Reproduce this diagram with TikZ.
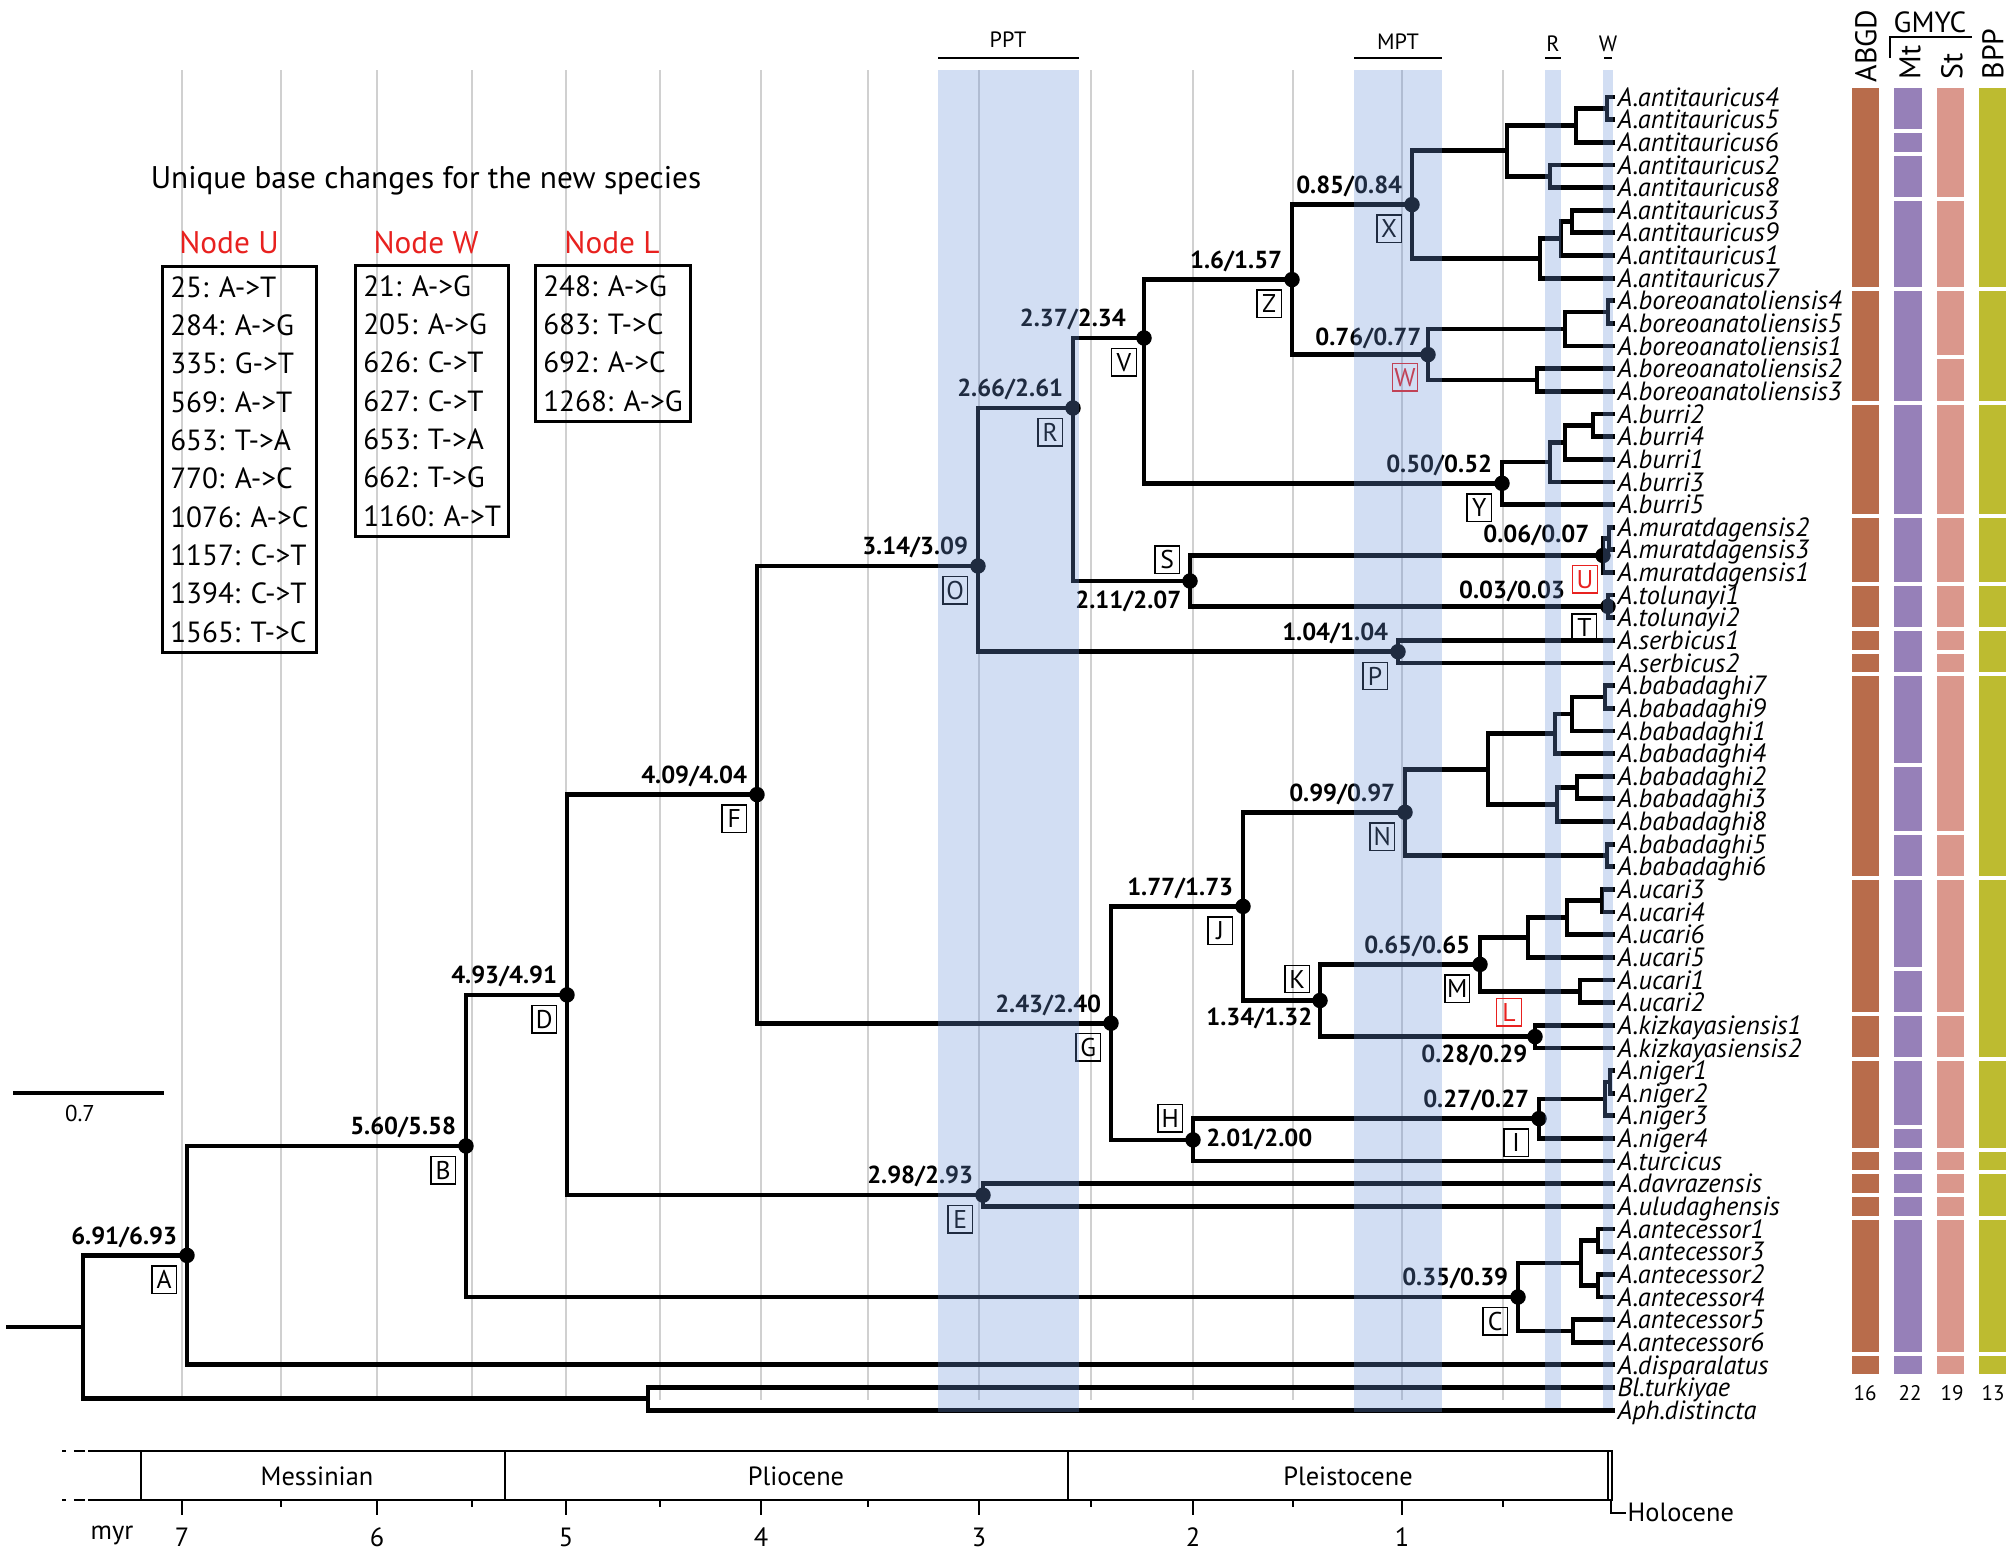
\documentclass[tikz,border=0pt]{standalone}
\usepackage{fontspec}
\setmainfont{PT Sans}
\usetikzlibrary{positioning}

\definecolor{gridgrey}{RGB}{208,208,208}
\definecolor{bandblue}{RGB}{105,145,215}
\definecolor{newred}{RGB}{232,33,31}
\definecolor{abgdcol}{RGB}{184,108,75}
\definecolor{mtcol}{RGB}{150,128,184}
\definecolor{stcol}{RGB}{218,151,140}
\definecolor{bppcol}{RGB}{189,187,48}

\tikzset{
  branch/.style={line width=1.35pt, line cap=rect},
  dot/.style={circle, fill, inner sep=0pt, minimum size=4.4pt},
  num/.style={font=\bfseries\fontsize{7}{8}\selectfont, inner sep=0pt},
  lettbox/.style={draw, line width=0.4pt, inner sep=0.5pt, minimum width=7pt, minimum height=7.8pt, font=\fontsize{7.3}{8}\selectfont},
  newbox/.style={lettbox, draw=newred, text=newred},
  tip/.style={anchor=west, inner xsep=1.1pt, inner ysep=0pt, text height=5.2pt, text depth=0pt, font=\itshape\fontsize{7.5}{8}\selectfont},
  gridline/.style={gridgrey, line width=0.45pt},
  band/.style={fill=bandblue, fill opacity=0.3},
  bandlab/.style={font=\fontsize{6.3}{7}\selectfont, inner sep=0pt},
  chgbox/.style={draw, line width=0.9pt, align=left, anchor=north west, inner xsep=2.2pt, inner ysep=2.8pt, font=\fontsize{8.3}{10.9}\selectfont},
  chghead/.style={text=newred, inner sep=0pt, font=\fontsize{8.9}{10}\selectfont},
  epoch/.style={inner sep=0pt, font=\fontsize{7.5}{8}\selectfont},
  colhead/.style={rotate=90, anchor=west, inner sep=0pt, font=\fontsize{8.5}{9}\selectfont},
  colnum/.style={inner sep=0pt, font=\fontsize{6}{7}\selectfont},
}

\begin{document}
\begin{tikzpicture}[x=0.01cm, y=-0.01cm]
\useasboundingbox (0,0) rectangle (2012,1551);

% Grid
\foreach \gx in {182,281,377,472,566,660,761,868,979,1091,1193,1293,1402,1503}
  \draw[gridline] (\gx,70) -- (\gx,1400);

% Tips
\foreach \lab [count=\i] in {A.antitauricus4, A.antitauricus5, A.antitauricus6, A.antitauricus2, A.antitauricus8, A.antitauricus3, A.antitauricus9, A.antitauricus1, A.antitauricus7, A.boreoanatoliensis4, A.boreoanatoliensis5, A.boreoanatoliensis1, A.boreoanatoliensis2, A.boreoanatoliensis3, A.burri2, A.burri4, A.burri1, A.burri3, A.burri5, A.muratdagensis2, A.muratdagensis3, A.muratdagensis1, A.tolunayi1, A.tolunayi2, A.serbicus1, A.serbicus2, A.babadaghi7, A.babadaghi9, A.babadaghi1, A.babadaghi4, A.babadaghi2, A.babadaghi3, A.babadaghi8, A.babadaghi5, A.babadaghi6, A.ucari3, A.ucari4, A.ucari6, A.ucari5, A.ucari1, A.ucari2, A.kizkayasiensis1, A.kizkayasiensis2, A.niger1, A.niger2, A.niger3, A.niger4, A.turcicus, A.davrazensis, A.uludaghensis, A.antecessor1, A.antecessor3, A.antecessor2, A.antecessor4, A.antecessor5, A.antecessor6, A.disparalatus, Bl.turkiyae, Aph.distincta}
  \node[tip] (t\i) at (1613,{97+(\i-1)*22.64}) {\lab};

% Internal nodes
\coordinate (stem) at (6,1327.1);
\coordinate (root) at (83,1327.1);
\coordinate (og) at (648,1398.8);
\coordinate (A) at (187,1255.4);
\coordinate (B) at (466,1146.0);
\coordinate (C) at (1518,1297.0);
\coordinate (D) at (567,994.9);
\coordinate (E) at (983,1195.1);
\coordinate (F) at (757,794.6);
\coordinate (G) at (1111,1023.2);
\coordinate (H) at (1193,1139.9);
\coordinate (I) at (1539,1118.6);
\coordinate (J) at (1243,906.4);
\coordinate (K) at (1320,1000.5);
\coordinate (L) at (1535,1036.6);
\coordinate (M) at (1480,964.4);
\coordinate (N) at (1405,812.3);
\coordinate (O) at (978,566);
\coordinate (P) at (1398,651.7);
\coordinate (R) at (1073,408);
\coordinate (S) at (1190,581.0);
\coordinate (T) at (1608,606.4);
\coordinate (U) at (1603,555.5);
\coordinate (V) at (1144,338);
\coordinate (W) at (1428,354.6);
\coordinate (X) at (1412,204.6);
\coordinate (Y) at (1502,483.3);
\coordinate (Z) at (1292,279.6);
\coordinate (n1) at (1607,108.3);
\coordinate (n2) at (1576,125.3);
\coordinate (n3) at (1550,176.3);
\coordinate (n4) at (1507,150.8);
\coordinate (n5) at (1572,221.5);
\coordinate (n6) at (1561,238.5);
\coordinate (n7) at (1540,258.3);
\coordinate (n8) at (1608,312.1);
\coordinate (n9) at (1565,329.1);
\coordinate (n10) at (1537,380.0);
\coordinate (n11) at (1593,425.3);
\coordinate (n12) at (1565,442.3);
\coordinate (n13) at (1550,462.1);
\coordinate (n14) at (1609,538.5);
\coordinate (n15) at (1605,697.0);
\coordinate (n16) at (1572,714.0);
\coordinate (n17) at (1555,733.8);
\coordinate (n18) at (1577,787.5);
\coordinate (n19) at (1557,804.5);
\coordinate (n20) at (1488,769.2);
\coordinate (n21) at (1607,855.5);
\coordinate (n22) at (1602,900.7);
\coordinate (n23) at (1567,917.7);
\coordinate (n24) at (1528,937.5);
\coordinate (n25) at (1580,991.3);
\coordinate (n26) at (1610,1081.9);
\coordinate (n27) at (1605,1098.9);
\coordinate (n28) at (1598,1240.3);
\coordinate (n29) at (1598,1285.6);
\coordinate (n30) at (1581,1263.0);
\coordinate (n31) at (1573,1330.9);

% Edges
\draw[branch, line cap=butt] (stem) -- (root);
\foreach \p/\c in {root/A, root/og, A/B, A/t57.west, B/D, B/C, D/F, D/E, E/t49.west, E/t50.west,
  F/O, F/G, O/R, O/P, R/V, R/S, V/Z, V/Y, Z/X, Z/W, X/n4, X/n7, n4/n2, n4/n3, n2/n1, n2/t3.west,
  n1/t1.west, n1/t2.west, n3/t4.west, n3/t5.west, n7/n6, n7/t9.west, n6/n5, n6/t8.west,
  n5/t6.west, n5/t7.west, W/n9, W/n10, n9/n8, n9/t12.west, n8/t10.west, n8/t11.west,
  n10/t13.west, n10/t14.west, Y/n13, Y/t19.west, n13/n12, n13/t18.west, n12/n11, n12/t17.west,
  n11/t15.west, n11/t16.west, S/U, S/T, U/n14, U/t22.west, n14/t20.west, n14/t21.west,
  T/t23.west, T/t24.west, P/t25.west, P/t26.west, G/J, G/H, J/N, J/K, N/n20, N/n21,
  n20/n17, n20/n19, n17/n16, n17/t30.west, n16/n15, n16/t29.west, n15/t27.west, n15/t28.west,
  n19/n18, n19/t33.west, n18/t31.west, n18/t32.west, n21/t34.west, n21/t35.west, K/M, K/L,
  M/n24, M/n25, n24/n23, n24/t39.west, n23/n22, n23/t38.west, n22/t36.west, n22/t37.west,
  n25/t40.west, n25/t41.west, L/t42.west, L/t43.west, H/I, H/t48.west, I/n27, I/t47.west,
  n27/n26, n27/t46.west, n26/t44.west, n26/t45.west, C/n30, C/n31, n30/n28, n30/n29,
  n28/t51.west, n28/t52.west, n29/t53.west, n29/t54.west, n31/t55.west, n31/t56.west,
  og/t58.west, og/t59.west}
  \draw[branch] (\p) |- (\c);

% Dots
\foreach \n in {A,B,C,D,E,F,G,H,I,J,K,L,M,N,O,P,R,S,T,U,V,W,X,Y,Z}
  \node[dot] (d\n) at (\n) {};

% Ages and node letters
\foreach \n/\a/\b in {A/6.91/6.93, B/5.60/5.58, C/0.35/0.39, D/4.93/4.91, E/2.98/2.93,
  F/4.09/4.04, G/2.43/2.40, I/0.27/0.27, J/1.77/1.73, M/0.65/0.65, N/0.99/0.97,
  O/3.14/3.09, P/1.04/1.04, R/2.66/2.61, X/0.85/0.84, Y/0.50/0.52, Z/1.6/1.57} {
  \node[num, above left=2pt and 2.6pt of \n] (v\n) {\a/\b};
  \node[lettbox, below left=2.8pt and 2.8pt of \n] (b\n) {\n};
}
\node[num, above left=2pt and 5pt of V] (vV) {2.37/2.34};
\node[lettbox, below left=2.8pt and 2pt of V] (bV) {V};
\node[num, above left=1.3pt and 1.7pt of W] (vW) {0.76/0.77};
\node[newbox, below left=2.4pt and 2.8pt of W] (bW) {W};
\node[num, above left=2.4pt and 3.7pt of U] (vU) {0.06/0.07};
\node[newbox, below left=2.7pt and 1.4pt of U] (bU) {U};
\node[num, above left=1pt and 12pt of T] (vT) {0.03/0.03};
\node[lettbox, below left=1.9pt and 3pt of T] (bT) {T};
\node[lettbox, above left=2pt and 2.8pt of K] (bK) {K};
\node[num, below left=2pt and 2pt of K] (vK) {1.34/1.32};
\node[newbox, above left=2.8pt and 3.7pt of L] (bL) {L};
\node[num, below left=2.3pt and 2pt of L] (vL) {0.28/0.29};
\node[lettbox, above left=2pt and 2.8pt of S] (bS) {S};
\node[num, below left=2.6pt and 2.3pt of S] (vS) {2.11/2.07};
\node[lettbox, above left=2pt and 2.8pt of H] (bH) {H};
\node[num, right=3.6pt of H] (vH) {2.01/2.00};

% Shaded periods
\fill[band] (938,70) rectangle (1079,1412);
\fill[band] (1354,70) rectangle (1442,1412);
\fill[band] (1545,70) rectangle (1561,1408);
\fill[band] (1603,70) rectangle (1613,1408);
\node[bandlab] (ppt) at (1008,40) {PPT};
\node[bandlab] (mpt) at (1398,42) {MPT};
\node[bandlab] (rlab) at (1553,44) {R};
\node[bandlab] (wlab) at (1608,44) {W};
\draw[line width=0.8pt] (938,58) -- (1079,58);
\draw[line width=0.8pt] (1354,58) -- (1442,58);
\draw[line width=0.8pt] (1545,58) -- (1561,58);
\draw[line width=0.8pt] (1604,58) -- (1612,58);

% Scale bar
\coordinate (sb0) at (13,1093);
\coordinate (sb1) at (164,1093);
\draw[branch, line cap=butt] (sb0) -- (sb1);
\node[colnum, font=\fontsize{6.5}{7}\selectfont] (sblab) at (80,1113) {0.7};

% Unique base changes
\node[inner sep=0pt, anchor=base, font=\fontsize{8.9}{10}\selectfont] (title) at (426,188) {Unique base changes for the new species};
\node[chghead] (hU) at (229,243) {Node U};
\node[chghead] (hW) at (426,243) {Node W};
\node[chghead] (hL) at (612,243) {Node L};
\node[chgbox] (boxU) at (161,265) {25: A->T\\284: A->G\\335: G->T\\569: A->T\\653: T->A\\770: A->C\\1076: A->C\\1157: C->T\\1394: C->T\\1565: T->C};
\node[chgbox] (boxW) at (354,264) {21: A->G\\205: A->G\\626: C->T\\627: C->T\\653: T->A\\662: T->G\\1160: A->T};
\node[chgbox] (boxL) at (534,264) {248: A->G\\683: T->C\\692: A->C\\1268: A->G};

% Time scale
\draw[line width=0.7pt, dash pattern=on 1.2pt off 2.2pt on 3pt off 1pt] (62,1451) -- (92,1451);
\draw[line width=0.7pt, dash pattern=on 1.2pt off 2.2pt on 3pt off 1pt] (62,1500) -- (92,1500);
\draw[line width=0.7pt] (92,1451) -- (1612,1451) -- (1612,1500) -- (92,1500);
\foreach \ex in {141,505,1068,1608}
  \draw[line width=0.6pt] (\ex,1451) -- (\ex,1500);
\node[epoch] (mess) at (317,1476) {Messinian};
\node[epoch] (plio) at (796,1476) {Pliocene};
\node[epoch] (pleis) at (1348,1476) {Pleistocene};
\draw[line width=0.7pt] (1611,1500) |- (1626,1513);
\node[epoch, anchor=west] (holo) at (1627,1512) {Holocene};
\foreach \tx/\tl in {182/7, 377/6, 566/5, 761/4, 979/3, 1193/2, 1402/1} {
  \draw[line width=0.6pt] (\tx,1500) -- (\tx,1515);
  \node[epoch] (age\tl) at (\tx,1537) {\tl};
}
\foreach \tx in {281,472,660,868,1091,1293,1503}
  \draw[line width=0.6pt] (\tx,1500) -- (\tx,1507);
\node[epoch] (myr) at (112,1535) {myr};

% Species delimitation bars
\foreach \a/\b in {1/9, 10/14, 15/19, 20/22, 23/24, 25/25, 26/26, 27/35, 36/41, 42/43, 44/47, 48/48, 49/49, 50/50, 51/56, 57/57}
  \fill[abgdcol] (1852,{97+(\a-1)*22.64-9.3}) rectangle (1879,{97+(\b-1)*22.64+9.3});
\foreach \a/\b in {1/2, 3/3, 4/5, 6/9, 10/14, 15/19, 20/22, 23/24, 25/26, 27/30, 31/33, 34/35, 36/39, 40/41, 42/43, 44/46, 47/47, 48/48, 49/49, 50/50, 51/56, 57/57}
  \fill[mtcol] (1894,{97+(\a-1)*22.64-9.3}) rectangle (1922,{97+(\b-1)*22.64+9.3});
\foreach \a/\b in {1/5, 6/9, 10/12, 13/14, 15/19, 20/22, 23/24, 25/25, 26/26, 27/33, 34/35, 36/41, 42/43, 44/47, 48/48, 49/49, 50/50, 51/56, 57/57}
  \fill[stcol] (1937,{97+(\a-1)*22.64-9.3}) rectangle (1964,{97+(\b-1)*22.64+9.3});
\foreach \a/\b in {1/9, 10/14, 15/19, 20/22, 23/24, 25/26, 27/35, 36/43, 44/47, 48/48, 49/50, 51/56, 57/57}
  \fill[bppcol] (1979,{97+(\a-1)*22.64-9.3}) rectangle (2006,{97+(\b-1)*22.64+9.3});
\node[colhead] (hABGD) at (1866,83) {ABGD};
\node[colhead] (hMt) at (1910,80) {Mt};
\node[colhead] (hSt) at (1952,80) {St};
\node[colhead] (hBPP) at (1993,80) {BPP};
\node[inner sep=0pt, anchor=base, font=\fontsize{8.3}{9}\selectfont] (hGMYC) at (1930,32) {GMYC};
\draw[line width=0.7pt] (1890,58) |- (1972,37);
\foreach \cx/\cn in {1865/16, 1910/22, 1952/19, 1993/13}
  \node[colnum] (cnt\cn) at (\cx,1393) {\cn};
\end{tikzpicture}
\end{document}
